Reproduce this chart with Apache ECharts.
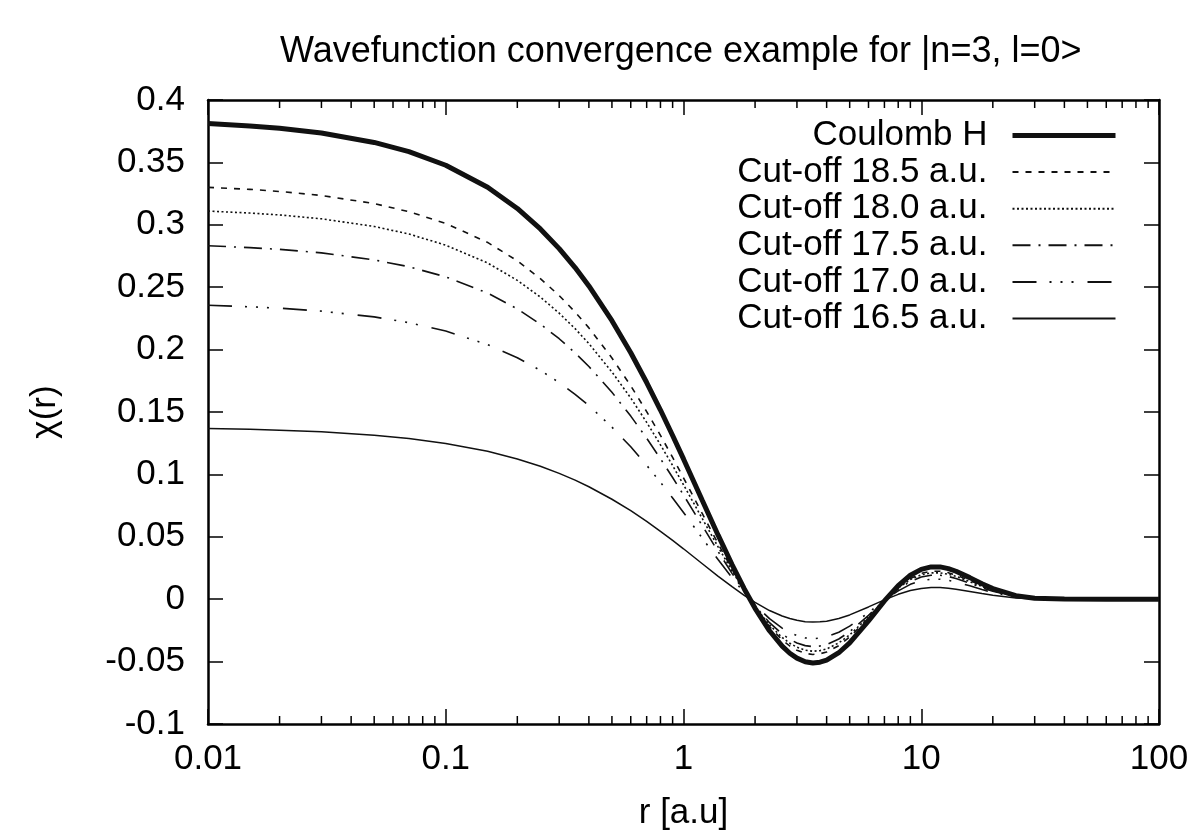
<!DOCTYPE html>
<html>
<head>
<meta charset="utf-8">
<title>Wavefunction convergence</title>
<script src="https://cdn.jsdelivr.net/npm/echarts@6/dist/echarts.min.js"></script>
<style>
  html, body { margin: 0; padding: 0; background: #fff; }
  .c { position: absolute; left: 0; top: 0; width: 1195px; height: 839px; }
  #ticks { pointer-events: none; }
</style>
</head>
<body>
<div id="chart" class="c"></div>
<div id="ticks" class="c"></div>
<script>
const rValues = [
  0.01, 0.015, 0.02, 0.03, 0.05, 0.07, 0.1, 0.15, 0.2, 0.25,
  0.3, 0.35, 0.4, 0.5, 0.6, 0.7, 0.8, 0.9, 1.0, 1.2,
  1.4, 1.6, 1.8, 2.0, 2.3, 2.6, 2.8, 3.0, 3.25, 3.5,
  3.75, 4.0, 4.5, 5.0, 6.0, 7.0, 8.0, 9.0, 10, 11,
  12, 13, 14, 16, 18, 20, 25, 30, 40, 60,
  100
];

const coulombH = [
  0.3811, 0.3792, 0.3773, 0.3735, 0.3660, 0.3586, 0.3477, 0.3301, 0.3131, 0.2967,
  0.2809, 0.2657, 0.2510, 0.2232, 0.1975, 0.1736, 0.1516, 0.1312, 0.1124, 0.0791,
  0.0511, 0.0278, 0.0084, -0.0073, -0.0253, -0.0376, -0.0433, -0.0472, -0.0501, -0.0511,
  -0.0505, -0.0489, -0.0429, -0.0350, -0.0174, -0.0014, 0.0109, 0.0192, 0.0239, 0.0259,
  0.0259, 0.0245, 0.0224, 0.0173, 0.0124, 0.0085, 0.0028, 0.0008, 0.0001, 0,
  0
];

const cut185 = [
  0.3300, 0.3284, 0.3267, 0.3235, 0.3170, 0.3105, 0.3011, 0.2859, 0.2711, 0.2569,
  0.2433, 0.2301, 0.2174, 0.1933, 0.1710, 0.1503, 0.1313, 0.1136, 0.0973, 0.0685,
  0.0443, 0.0241, 0.0073, -0.0063, -0.0219, -0.0326, -0.0375, -0.0409, -0.0434, -0.0443,
  -0.0437, -0.0423, -0.0372, -0.0303, -0.0151, -0.0012, 0.0094, 0.0166, 0.0207, 0.0224,
  0.0224, 0.0212, 0.0194, 0.0150, 0.0107, 0.0074, 0.0024, 0.0007, 0.0001, 0,
  0
];

const cut180 = [
  0.3110, 0.3094, 0.3079, 0.3048, 0.2987, 0.2926, 0.2837, 0.2694, 0.2555, 0.2421,
  0.2292, 0.2168, 0.2048, 0.1821, 0.1612, 0.1417, 0.1237, 0.1071, 0.0917, 0.0645,
  0.0417, 0.0227, 0.0069, -0.0060, -0.0206, -0.0307, -0.0353, -0.0385, -0.0409, -0.0417,
  -0.0412, -0.0399, -0.0350, -0.0286, -0.0142, -0.0011, 0.0089, 0.0157, 0.0195, 0.0211,
  0.0211, 0.0200, 0.0183, 0.0141, 0.0101, 0.0069, 0.0023, 0.0007, 0.0001, 0,
  0
];

const cut175 = [
  0.2832, 0.2817, 0.2803, 0.2775, 0.2719, 0.2664, 0.2583, 0.2453, 0.2326, 0.2204,
  0.2087, 0.1974, 0.1865, 0.1658, 0.1467, 0.1290, 0.1126, 0.0975, 0.0835, 0.0588,
  0.0380, 0.0207, 0.0062, -0.0054, -0.0188, -0.0279, -0.0322, -0.0351, -0.0372, -0.0380,
  -0.0375, -0.0363, -0.0319, -0.0260, -0.0129, -0.0010, 0.0081, 0.0143, 0.0178, 0.0192,
  0.0192, 0.0182, 0.0166, 0.0129, 0.0092, 0.0063, 0.0021, 0.0006, 0.0001, 0,
  0
];

const cut170 = [
  0.2355, 0.2343, 0.2332, 0.2308, 0.2262, 0.2216, 0.2149, 0.2040, 0.1935, 0.1834,
  0.1736, 0.1642, 0.1551, 0.1379, 0.1221, 0.1073, 0.0937, 0.0811, 0.0695, 0.0489,
  0.0316, 0.0172, 0.0052, -0.0045, -0.0156, -0.0232, -0.0268, -0.0292, -0.0310, -0.0316,
  -0.0312, -0.0302, -0.0265, -0.0216, -0.0108, -0.0009, 0.0067, 0.0119, 0.0148, 0.0160,
  0.0160, 0.0151, 0.0138, 0.0107, 0.0077, 0.0053, 0.0017, 0.0005, 0.0001, 0,
  0
];

const cut165 = [
  0.1368, 0.1361, 0.1354, 0.1341, 0.1314, 0.1287, 0.1248, 0.1185, 0.1124, 0.1065,
  0.1008, 0.0954, 0.0901, 0.0801, 0.0709, 0.0623, 0.0544, 0.0471, 0.0404, 0.0284,
  0.0183, 0.0100, 0.0030, -0.0026, -0.0091, -0.0135, -0.0155, -0.0169, -0.0180, -0.0183,
  -0.0181, -0.0176, -0.0154, -0.0126, -0.0062, -0.0005, 0.0039, 0.0069, 0.0086, 0.0093,
  0.0093, 0.0088, 0.0080, 0.0062, 0.0045, 0.0031, 0.0010, 0.0003, 0, 0,
  0
];

const seriesNames = [
  "Coulomb H",
  "Cut-off 18.5 a.u.",
  "Cut-off 18.0 a.u.",
  "Cut-off 17.5 a.u.",
  "Cut-off 17.0 a.u.",
  "Cut-off 16.5 a.u."
];

// minor ticks of the log axis
const minorTicks = [
  0.02, 0.03, 0.04, 0.05, 0.06, 0.07, 0.08, 0.09,
  0.2, 0.3, 0.4, 0.5, 0.6, 0.7, 0.8, 0.9,
  2, 3, 4, 5, 6, 7, 8, 9,
  20, 30, 40, 50, 60, 70, 80, 90
];

const xMin = 0.01, xMax = 100;
const yMin = -0.1, yMax = 0.4;

const font = "'Liberation Sans', Arial, Helvetica, sans-serif";
const fs = 35;
const gridBox = { left: 208, right: 36, top: 100, bottom: 115, containLabel: false };

function pairs(ys) {
  return rValues.map(function (r, i) { return [r, ys[i]]; });
}
function frame() { return { color: "#000", width: 2.5 }; }
function tick() { return { color: "#000", width: 1.5 }; }
function txt(size) { return { fontFamily: font, fontSize: size, color: "#000" }; }

function lineSeries(name, ys, width, dash, z) {
  return {
    name: name,
    type: "line",
    data: pairs(ys),
    showSymbol: false,
    symbol: "none",
    smooth: false,
    z: z,
    lineStyle: { color: "#111", width: width, type: dash },
    emphasis: { disabled: true }
  };
}

// main chart: frame, labels, legend and curves
const myChart = echarts.init(document.getElementById("chart"));
myChart.setOption({
  animation: false,
  title: {
    text: "Wavefunction convergence example for |n=3, l=0>",
    left: 275,
    top: 29,
    textStyle: { fontFamily: font, fontSize: 36, fontWeight: "normal", color: "#000" }
  },
  legend: {
    data: [
      { name: seriesNames[0], lineStyle: { width: 5 } },
      seriesNames[1], seriesNames[2], seriesNames[3], seriesNames[4], seriesNames[5]
    ],
    orient: "vertical",
    right: 72,
    top: 113,
    align: "right",
    itemWidth: 103,
    itemHeight: 14,
    itemGap: 1.6,
    selectedMode: false,
    itemStyle: { opacity: 0 },
    textStyle: { fontFamily: font, fontSize: fs, color: "#000", padding: [0, 20, 0, 0] }
  },
  grid: gridBox,
  xAxis: [
    {
      type: "log", logBase: 10, min: xMin, max: xMax, position: "bottom",
      name: "r [a.u]", nameLocation: "middle", nameGap: 72, nameTextStyle: txt(fs),
      axisLine: { show: true, onZero: false, lineStyle: frame() },
      axisTick: { show: false },
      axisLabel: Object.assign(txt(fs), { margin: 18 }),
      splitLine: { show: false }
    },
    {
      type: "log", logBase: 10, min: xMin, max: xMax, position: "top",
      axisLine: { show: true, onZero: false, lineStyle: frame() },
      axisTick: { show: false },
      axisLabel: { show: false },
      splitLine: { show: false }
    }
  ],
  yAxis: [
    {
      type: "value", min: yMin, max: yMax, interval: 0.05, position: "left",
      name: "χ(r)", nameLocation: "middle", nameGap: 145, nameTextStyle: txt(fs),
      axisLine: { show: true, lineStyle: frame() },
      axisTick: { show: true, inside: true, length: 15, lineStyle: tick() },
      axisLabel: Object.assign(txt(fs), { margin: 23 }),
      splitLine: { show: false }
    },
    {
      type: "value", min: yMin, max: yMax, interval: 0.05, position: "right",
      axisLine: { show: true, lineStyle: frame() },
      axisTick: { show: true, inside: true, length: 15, lineStyle: tick() },
      axisLabel: { show: false },
      splitLine: { show: false }
    }
  ],
  series: [
    lineSeries(seriesNames[1], cut185, 1.6, [6, 7], 3),
    lineSeries(seriesNames[2], cut180, 1.6, [2, 2.5], 3),
    lineSeries(seriesNames[3], cut175, 1.6, [18, 8, 2, 8], 3),
    lineSeries(seriesNames[4], cut170, 1.6, [24, 13, 2, 9, 2, 9, 2, 14], 3),
    lineSeries(seriesNames[5], cut165, 1.5, "solid", 3),
    lineSeries(seriesNames[0], coulombH, 5, "solid", 5)
  ]
});

// transparent layer on top: x ticks of the log axis, bottom and top edge
const tickChart = echarts.init(document.getElementById("ticks"));
tickChart.setOption({
  animation: false,
  grid: gridBox,
  xAxis: [
    {
      type: "log", logBase: 10, min: xMin, max: xMax, position: "bottom",
      axisLine: { show: false, onZero: false },
      axisTick: { show: true, inside: true, length: 15, lineStyle: tick() },
      axisLabel: { show: false },
      splitLine: { show: false }
    },
    {
      type: "log", logBase: 10, min: xMin, max: xMax, position: "top",
      axisLine: { show: false, onZero: false },
      axisTick: { show: true, inside: true, length: 15, lineStyle: tick() },
      axisLabel: { show: false },
      splitLine: { show: false }
    }
  ],
  yAxis: {
    type: "value", min: yMin, max: yMax, show: false,
    splitLine: { show: false }
  },
  series: [
    {
      type: "custom",
      silent: true,
      clip: false,
      data: minorTicks.map(function (v) { return [v, 8]; }),
      encode: { x: 0 },
      renderItem: function (params, api) {
        const cs = params.coordSys;
        const x = api.coord([api.value(0), 0])[0];
        const len = api.value(1);
        const yb = cs.y + cs.height, yt = cs.y;
        return {
          type: "group",
          children: [
            { type: "line", shape: { x1: x, y1: yb, x2: x, y2: yb - len }, style: { stroke: "#000", lineWidth: 1.5 } },
            { type: "line", shape: { x1: x, y1: yt, x2: x, y2: yt + len }, style: { stroke: "#000", lineWidth: 1.5 } }
          ]
        };
      }
    }
  ]
});
</script>
</body>
</html>
